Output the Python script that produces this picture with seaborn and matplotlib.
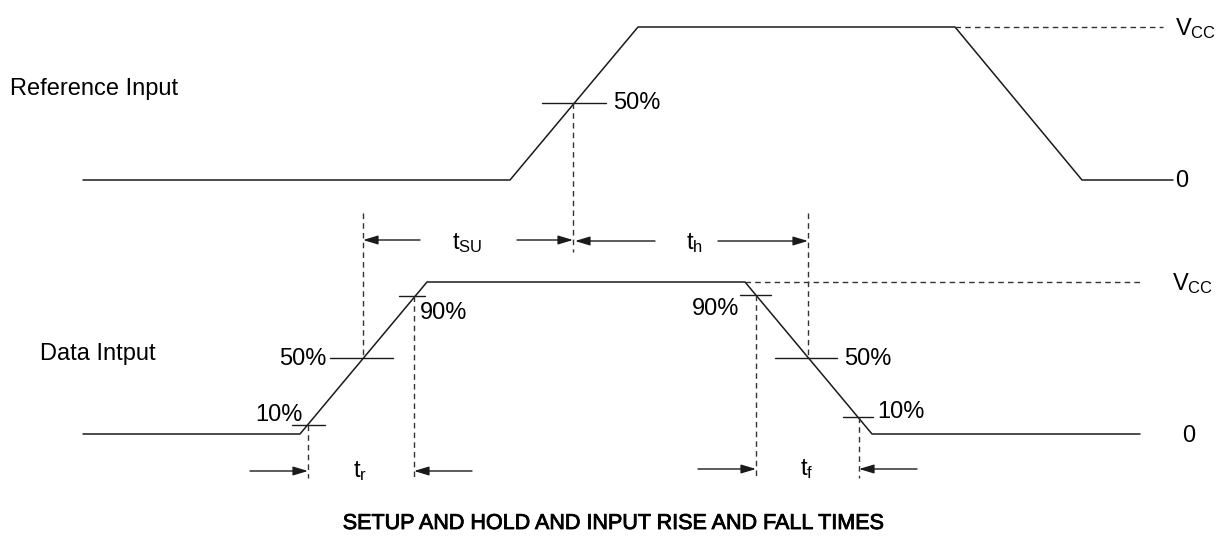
import matplotlib
matplotlib.use("Agg")
import matplotlib.pyplot as plt
import matplotlib.patheffects as pe
import seaborn as sns

sns.set_theme(style="white")
plt.rcParams['font.family'] = ['Liberation Sans', 'DejaVu Sans']
plt.rcParams['mathtext.fontset'] = 'custom'
plt.rcParams['mathtext.rm'] = 'Liberation Sans'

# ---- waveform data (time axis in drawing units, level axis downwards) ----
ref_t = [83, 510, 638, 955, 1082, 1173]
ref_v = [180, 180, 27, 27, 180, 180]
data_t = [83, 300, 427, 745, 872, 1140]
data_v = [434, 434, 282, 282, 434, 434]

# Vcc reference dashed levels: (t_start, t_end, level)
vcc_ref = (955, 1163, 27)
vcc_data = (745, 1140, 282)

# threshold ticks: (t_start, t_end, level)
ticks = [(542, 606, 103), (399, 425, 296), (330, 393, 358), (292, 325, 425),
         (740, 771, 295), (775, 837, 358), (843, 873, 417)]

# dashed vertical markers: (t, top, bottom)
vmarks = [(573, 103, 252), (363, 213, 358), (808, 213, 358), (414, 296, 478),
          (308, 425, 478), (756, 295, 478), (859, 417, 478)]

# arrows: (tail_t, head_t, level)
arrows = [(420, 363, 240), (517, 573, 240), (655, 575, 241), (718, 808, 241),
          (250, 308, 471), (472, 414, 471), (698, 756, 469), (917, 859, 469)]

# labels: (text, t, baseline, ha, size)
labels = [
    ("Reference Input", 10, 95, "left", 17),
    ("Data Intput", 40, 360, "left", 17),
    ("50%", 613, 109, "left", 17),
    ("0", 1175, 187, "left", 17),
    (r"$\mathregular{V_{CC}}$", 1175, 35, "left", 17),
    (r"$\mathregular{V_{CC}}$", 1172, 290, "left", 17),
    ("0", 1182, 442, "left", 17),
    ("90%", 420, 319, "left", 17),
    ("50%", 326, 365, "right", 17),
    ("10%", 303, 421, "right", 17),
    (r"$\mathregular{t_{r}}$", 353, 477, "left", 17),
    (r"$\mathregular{t_{SU}}$", 452, 249, "left", 17),
    (r"$\mathregular{t_{h}}$", 686, 249, "left", 17),
    ("90%", 739, 315, "right", 17),
    ("50%", 844, 365, "left", 17),
    ("10%", 877, 418, "left", 17),
    (r"$\mathregular{t_{f}}$", 800, 475, "left", 17),
]
title = "SETUP AND HOLD AND INPUT RISE AND FALL TIMES"

LINE = "#1a1a1a"

fig = plt.figure(figsize=(12.26, 5.47), dpi=100)
ax = fig.add_axes([0, 0, 1, 1])

sns.lineplot(x=ref_t, y=ref_v, sort=False, estimator=None, ax=ax,
             color=LINE, lw=1.1)
sns.lineplot(x=data_t, y=data_v, sort=False, estimator=None, ax=ax,
             color=LINE, lw=1.1)

for (a, b, lvl) in (vcc_ref, vcc_data):
    ax.plot([a, b], [lvl, lvl], color="#333333", lw=1.0, ls=(0, (4, 3)))

for (a, b, lvl) in ticks:
    ax.plot([a, b], [lvl, lvl], color=LINE, lw=1.0)

for (t, top, bot) in vmarks:
    ax.plot([t, t], [top, bot], color="#333333", lw=1.0, ls=(0, (4, 3)))

for (tail, head, lvl) in arrows:
    ax.annotate("", xy=(head, lvl), xytext=(tail, lvl),
                arrowprops=dict(arrowstyle="-|>,head_length=0.9,head_width=0.27",
                                color=LINE, lw=1.0, shrinkA=0, shrinkB=0,
                                mutation_scale=10))

for (txt, t, y, ha, sz) in labels:
    ax.text(t, y, txt, ha=ha, va="baseline", fontsize=sz, color="black")

ax.text(613, 529, title, ha="center", va="baseline", fontsize=15.5,
        color="black",
        path_effects=[pe.withStroke(linewidth=0.6, foreground="black")])

ax.set_xlim(0, 1226)
ax.set_ylim(547, 0)
ax.axis("off")

fig.savefig("out.png", dpi=100, facecolor="white")
